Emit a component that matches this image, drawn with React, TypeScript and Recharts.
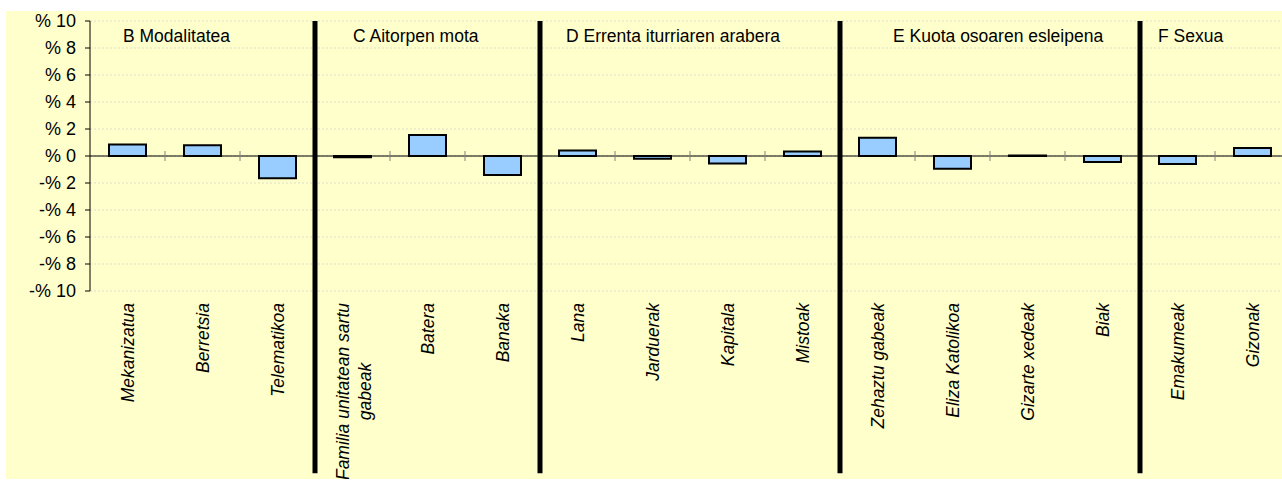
import React from 'react';
import { BarChart, Bar, XAxis, YAxis, CartesianGrid, ReferenceLine, ReferenceDot } from 'recharts';

const categories = [
  'Mekanizatua', 'Berretsia', 'Telematikoa',
  'Familia unitatean sartu gabeak', 'Batera', 'Banaka',
  'Lana', 'Jarduerak', 'Kapitala', 'Mistoak',
  'Zehaztu gabeak', 'Eliza Katolikoa', 'Gizarte xedeak', 'Biak',
  'Emakumeak', 'Gizonak',
];
const values = [0.85, 0.8, -1.65, -0.1, 1.55, -1.4, 0.4, -0.2, -0.55, 0.33, 1.35, -0.95, 0.03, -0.45, -0.6, 0.6];
const yTicks = [-10, -8, -6, -4, -2, 0, 2, 4, 6, 8, 10];
const groupLabels = ['B Modalitatea', 'C Aitorpen mota', 'D Errenta iturriaren arabera', 'E Kuota osoaren esleipena', 'F Sexua'];
const groupFirst = ['Mekanizatua', 'Familia unitatean sartu gabeak', 'Lana', 'Zehaztu gabeak', 'Emakumeak'];

// layout offsets (px) of each group title from its first category's centre
const GROUP_LABEL_DX = [-4.5, 0.5, -11.5, 15.5, -19.5];

const data = categories.map((c, i) => ({ name: c, v: values[i] }));

const FONT = '"Liberation Sans", Arial, sans-serif';
const FS = 17.5;

function wrap(label: string, max = 24): string[] {
  const words = label.split(' ');
  const lines: string[] = [];
  let cur = '';
  for (const w of words) {
    const t = cur ? cur + ' ' + w : w;
    if (t.length > max && cur) {
      lines.push(cur);
      cur = w;
    } else cur = t;
  }
  if (cur) lines.push(cur);
  return lines;
}

const XTick = (props: any) => {
  const { x, y, payload } = props;
  const lines = wrap(String(payload.value));
  if (lines.length === 1) {
    return (
      <g transform={`translate(${x},${y}) rotate(-90)`}>
        <text x={0} y={6} textAnchor="end" fontSize={FS} fontStyle="italic" fill="#000" fontFamily={FONT}>
          {lines[0]}
        </text>
      </g>
    );
  }
  const maxLen = Math.max(...lines.map((l) => l.length));
  const cx = -(maxLen * 7.7) / 2;
  const spacing = 22;
  const start = 7.5 - ((lines.length - 1) * spacing) / 2;
  return (
    <g transform={`translate(${x},${y}) rotate(-90)`}>
      {lines.map((l, i) => (
        <text key={i} x={cx} y={start + i * spacing} textAnchor="middle" fontSize={FS} fontStyle="italic" fill="#000" fontFamily={FONT}>
          {l}
        </text>
      ))}
    </g>
  );
};

const fmtY = (v: number) => (v < 0 ? `-% ${-v}` : `% ${v}`);

export default function App() {
  return (
    <div style={{ position: 'absolute', left: 6, top: 11, width: 1276, height: 468, background: '#FFFFCC', overflow: 'hidden' }}>
      <BarChart width={1284} height={468} data={data} margin={{ top: 10, right: 0, bottom: 0, left: 0 }}>
        <CartesianGrid vertical={false} stroke="#deddc8" strokeDasharray="2 2" />
        <XAxis
          dataKey="name"
          interval={0}
          axisLine={false}
          tickLine={false}
          tickSize={0}
          tickMargin={12}
          height={188}
          tick={<XTick />}
        />
        <YAxis
          type="number"
          domain={[-10, 10]}
          ticks={yTicks}
          tickFormatter={fmtY}
          width={84}
          tickSize={5}
          tickMargin={9}
          axisLine={{ stroke: '#000' }}
          tickLine={{ stroke: '#000' }}
          tick={{ fontSize: 18, fill: '#000', fontFamily: FONT }}
          interval={0}
        />
        <ReferenceLine y={0} stroke="#000" strokeWidth={1} />
        {categories.slice(1).map((c) => (
          <ReferenceLine
            key={'t' + c}
            position="start"
            segment={[{ x: c, y: -0.37 }, { x: c, y: 0.37 }]}
            stroke="#808080"
            strokeWidth={1}
          />
        ))}
        <Bar dataKey="v" fill="#99CCFF" stroke="#000" strokeWidth={2} barSize={37} isAnimationActive={false} />
        {groupFirst.slice(1).map((c) => (
          <ReferenceLine
            key={'d' + c}
            position="start"
            segment={[{ x: c, y: 10 }, { x: c, y: -23.5 }]}
            stroke="#000"
            strokeWidth={5}
            ifOverflow="visible"
          />
        ))}
        {groupLabels.map((g, i) => (
          <ReferenceDot
            key={'g' + i}
            x={groupFirst[i]}
            y={8.89}
            r={0}
            shape={(p: any) => (
              <text x={p.cx + GROUP_LABEL_DX[i]} y={p.cy} dy={6} fontSize={FS} fill="#000" fontFamily={FONT}>
                {g}
              </text>
            )}
          />
        ))}
      </BarChart>
    </div>
  );
}
